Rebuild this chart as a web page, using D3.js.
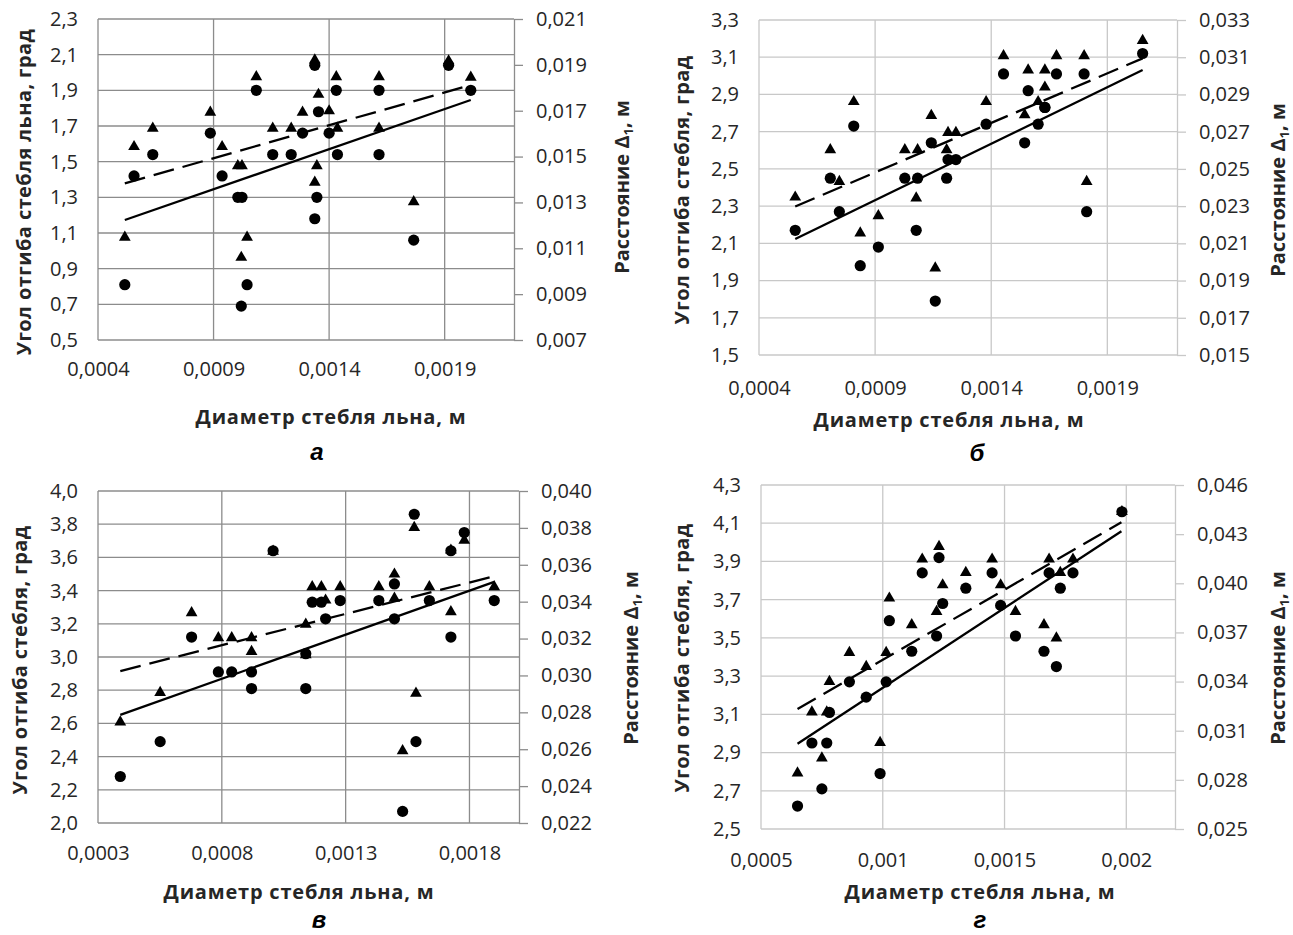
<!DOCTYPE html>
<html>
<head>
<meta charset="utf-8">
<script src="https://cdn.jsdelivr.net/npm/d3@7"></script>
<style>
  body { margin: 0; background: #fff; }
</style>
</head>
<body>
<div id="chart"></div>
<script>
// ---- panel а ----
var diamA = [0.000516, 0.000556, 0.000637, 0.000886, 0.000937, 0.001005, 0.001023, 0.001045, 0.00102, 0.001085,
  0.001156, 0.001236, 0.001285, 0.001338, 0.001354, 0.001347, 0.001338, 0.0014, 0.001431, 0.001436,
  0.001616, 0.001616, 0.001766, 0.001917, 0.002013];
var angleA = [0.81, 1.42, 1.54, 1.66, 1.42, 1.30, 1.30, 0.81, 0.69, 1.90,
  1.54, 1.54, 1.66, 2.04, 1.78, 1.30, 1.18, 1.66, 1.90, 1.54,
  1.90, 1.54, 1.06, 2.04, 1.90];
var distA = [0.01148, 0.01543, 0.01623, 0.01693, 0.01543, 0.0146, 0.0146, 0.01148, 0.0106, 0.01848,
  0.01623, 0.01623, 0.01693, 0.01921, 0.01771, 0.0146, 0.01388, 0.01699, 0.01848, 0.01623,
  0.01848, 0.01623, 0.01303, 0.01917, 0.01846];
var trendXA = [0.000516, 0.002013];
var trendAngleA = [1.173, 1.846];
var trendDistA = [0.01383, 0.01812];
var xTicksA = [0.0004, 0.0009, 0.0014, 0.0019];
var yTicksA = [0.5, 0.7, 0.9, 1.1, 1.3, 1.5, 1.7, 1.9, 2.1, 2.3];
var y2TicksA = [0.007, 0.009, 0.011, 0.013, 0.015, 0.017, 0.019, 0.021];

// ---- panel б ----
var diamB = [0.000556, 0.000707, 0.000746, 0.000808, 0.000836, 0.000914, 0.001028, 0.001083, 0.001077, 0.001142,
  0.001159, 0.001208, 0.001214, 0.001248, 0.001378, 0.001453, 0.001544, 0.001559, 0.001602, 0.001631,
  0.001631, 0.001681, 0.0018, 0.001811, 0.002052];
var angleB = [2.17, 2.45, 2.27, 2.73, 1.98, 2.08, 2.45, 2.45, 2.17, 2.64,
  1.79, 2.45, 2.55, 2.55, 2.74, 3.01, 2.64, 2.92, 2.74, 2.83,
  2.83, 3.01, 3.01, 2.27, 3.12];
var distB = [0.02348, 0.02602, 0.02432, 0.02861, 0.02155, 0.02248, 0.02602, 0.02602, 0.02343, 0.02786,
  0.01967, 0.02602, 0.02695, 0.02695, 0.02861, 0.03107, 0.0279, 0.03031, 0.02861, 0.03031,
  0.02939, 0.03107, 0.03107, 0.02432, 0.03189];
var trendXB = [0.000556, 0.002052];
var trendAngleB = [2.123, 3.031];
var trendDistB = [0.02298, 0.03094];
var xTicksB = [0.0004, 0.0009, 0.0014, 0.0019];
var yTicksB = [1.5, 1.7, 1.9, 2.1, 2.3, 2.5, 2.7, 2.9, 3.1, 3.3];
var y2TicksB = [0.015, 0.017, 0.019, 0.021, 0.023, 0.025, 0.027, 0.029, 0.031, 0.033];

// ---- panel в ----
var diamC = [0.00039, 0.000551, 0.000678, 0.000786, 0.00084, 0.00092, 0.00092, 0.001007, 0.001139, 0.001139,
  0.001165, 0.001202, 0.001219, 0.001278, 0.001434, 0.001497, 0.001497, 0.00153, 0.001577, 0.001584,
  0.001638, 0.001725, 0.001725, 0.001779, 0.0019];
var angleC = [2.28, 2.49, 3.12, 2.91, 2.91, 2.91, 2.81, 3.64, 3.02, 2.81,
  3.33, 3.33, 3.23, 3.34, 3.34, 3.44, 3.23, 2.07, 3.86, 2.49,
  3.34, 3.64, 3.12, 3.75, 3.34];
var distC = [0.02747, 0.02907, 0.0334, 0.03204, 0.03204, 0.03204, 0.03129, 0.03673, 0.03277, 0.03111,
  0.0348, 0.0348, 0.03408, 0.0348, 0.0348, 0.03549, 0.03418, 0.02591, 0.03802, 0.02903,
  0.0348, 0.03679, 0.03345, 0.03733, 0.0348];
var trendXC = [0.00039, 0.0019];
var trendAngleC = [2.651, 3.453];
var trendDistC = [0.03024, 0.03538];
var xTicksC = [0.0003, 0.0008, 0.0013, 0.0018];
var yTicksC = [2.0, 2.2, 2.4, 2.6, 2.8, 3.0, 3.2, 3.4, 3.6, 3.8, 4.0];
var y2TicksC = [0.022, 0.024, 0.026, 0.028, 0.030, 0.032, 0.034, 0.036, 0.038, 0.040];

// ---- panel г ----
var diamD = [0.00065, 0.000709, 0.00075, 0.00077, 0.000781, 0.000863, 0.000932, 0.000989, 0.001014, 0.001027,
  0.001119, 0.001162, 0.001221, 0.001231, 0.001246, 0.001341, 0.001449, 0.001484, 0.001545, 0.001662,
  0.001683, 0.001713, 0.001729, 0.001781, 0.001982];
var angleD = [2.62, 2.95, 2.71, 2.95, 3.11, 3.27, 3.19, 2.79, 3.27, 3.59,
  3.43, 3.84, 3.51, 3.92, 3.68, 3.76, 3.84, 3.67, 3.51, 3.43,
  3.84, 3.35, 3.76, 3.84, 4.16];
var distD = [0.02842, 0.03214, 0.02933, 0.03214, 0.034, 0.03577, 0.03492, 0.03028, 0.03577, 0.03909,
  0.03746, 0.04147, 0.03827, 0.04224, 0.0399, 0.04065, 0.04147, 0.0399, 0.03827, 0.03746,
  0.04147, 0.03665, 0.04065, 0.04147, 0.04437];
var trendXD = [0.00065, 0.00198];
var trendAngleD = [2.946, 4.058];
var trendDistD = [0.03232, 0.04373];
var xTicksD = [0.0005, 0.001, 0.0015, 0.002];
var yTicksD = [2.5, 2.7, 2.9, 3.1, 3.3, 3.5, 3.7, 3.9, 4.1, 4.3];
var y2TicksD = [0.025, 0.028, 0.031, 0.034, 0.037, 0.040, 0.043, 0.046];

var xTitle = "Диаметр стебля льна, м";
var fontFamily = "'Open Sans', 'Noto Sans', sans-serif";

var panels = [
  { letter: "а", diam: diamA, angle: angleA, dist: distA, tx: trendXA, ta: trendAngleA, td: trendDistA,
    xTicks: xTicksA, xMax: 0.0022, yTicks: yTicksA, y2Ticks: y2TicksA,
    box: { l: 98, r: 514, t: 19, b: 340 }, grid: "#8c8c8c", xPad: 22,
    yTitle: "Угол отгиба стебля льна, град", yTitlePos: [24, 192], y2TitlePos: [622, 187],
    xTitlePos: [331, 424], letterPos: [317, 460] },
  { letter: "б", diam: diamB, angle: angleB, dist: distB, tx: trendXB, ta: trendAngleB, td: trendDistB,
    xTicks: xTicksB, xMax: 0.0022, yTicks: yTicksB, y2Ticks: y2TicksB,
    box: { l: 759, r: 1177, t: 20, b: 355 }, grid: "#c8c8c8", xPad: 26,
    yTitle: "Угол отгиба стебля, град", yTitlePos: [682, 190], y2TitlePos: [1278, 190],
    xTitlePos: [949, 427], letterPos: [977, 461] },
  { letter: "в", diam: diamC, angle: angleC, dist: distC, tx: trendXC, ta: trendAngleC, td: trendDistC,
    xTicks: xTicksC, xMax: 0.002, yTicks: yTicksC, y2Ticks: y2TicksC,
    box: { l: 98, r: 519, t: 491, b: 823 }, grid: "#8c8c8c", xPad: 23,
    yTitle: "Угол отгиба стебля, град", yTitlePos: [20, 660], y2TitlePos: [631, 658],
    xTitlePos: [299, 899], letterPos: [319, 928] },
  { letter: "г", diam: diamD, angle: angleD, dist: distD, tx: trendXD, ta: trendAngleD, td: trendDistD,
    xTicks: xTicksD, xMax: 0.0022, yTicks: yTicksD, y2Ticks: y2TicksD,
    box: { l: 761, r: 1175, t: 485, b: 829 }, grid: "#c8c8c8", xPad: 24,
    yTitle: "Угол отгиба стебля, град", yTitlePos: [682, 658], y2TitlePos: [1278, 658],
    xTitlePos: [980, 899], letterPos: [980, 928] }
];

var svg = d3.select("#chart").append("svg")
  .attr("width", 1293)
  .attr("height", 935);

function comma(s) { return s.replace(".", ","); }
var fmtY = function(d) { return comma(d3.format(".1f")(d)); };
var fmtY2 = function(d) { return comma(d3.format(".3f")(d)); };
var fmtX = function(d) { return comma(String(+d.toFixed(4))); };

function styleAxis(sel) {
  sel.attr("font-family", fontFamily).attr("font-size", 20);
  sel.selectAll("text").attr("fill", "#262626");
}

function drawPanel(p) {
  var x = d3.scaleLinear().domain([p.xTicks[0], p.xMax]).range([p.box.l, p.box.r]);
  var y = d3.scaleLinear().domain(d3.extent(p.yTicks)).range([p.box.b, p.box.t]);
  var y2 = d3.scaleLinear().domain(d3.extent(p.y2Ticks)).range([p.box.b, p.box.t]);

  var g = svg.append("g");

  // gridlines
  g.append("g").selectAll("line").data(p.yTicks).enter().append("line")
    .attr("x1", p.box.l).attr("x2", p.box.r)
    .attr("y1", d => y(d)).attr("y2", d => y(d))
    .attr("stroke", p.grid).attr("stroke-width", 1.3);
  g.append("g").selectAll("line").data(p.xTicks).enter().append("line")
    .attr("x1", d => x(d)).attr("x2", d => x(d))
    .attr("y1", p.box.t).attr("y2", p.box.b)
    .attr("stroke", p.grid).attr("stroke-width", 1.3);

  // left axis labels
  g.append("g")
    .attr("transform", `translate(${p.box.l},0)`)
    .call(d3.axisLeft(y).tickValues(p.yTicks).tickSize(0).tickPadding(20).tickFormat(fmtY))
    .call(a => a.select(".domain").remove())
    .call(styleAxis);

  // bottom axis labels
  g.append("g")
    .attr("transform", `translate(0,${p.box.b})`)
    .call(d3.axisBottom(x).tickValues(p.xTicks).tickSize(0).tickPadding(p.xPad).tickFormat(fmtX))
    .call(a => a.select(".domain").remove())
    .call(styleAxis);

  // right axis
  var right = g.append("g")
    .attr("transform", `translate(${p.box.r},0)`)
    .call(d3.axisRight(y2).tickValues(p.y2Ticks).tickSize(9).tickSizeOuter(0).tickPadding(13).tickFormat(fmtY2))
    .call(styleAxis);
  right.select(".domain").attr("stroke", p.grid).attr("stroke-width", 1.3);
  right.selectAll(".tick line").attr("stroke", p.grid).attr("stroke-width", 1.3);

  // trend lines
  var tData = p.tx.map((v, i) => ({ x: v, a: p.ta[i], d: p.td[i] }));
  g.append("path").datum(tData)
    .attr("fill", "none").attr("stroke", "#000").attr("stroke-width", 2.3)
    .attr("d", d3.line().x(d => x(d.x)).y(d => y(d.a)));
  g.append("path").datum(tData)
    .attr("fill", "none").attr("stroke", "#000").attr("stroke-width", 2.3)
    .attr("stroke-dasharray", "21,9")
    .attr("d", d3.line().x(d => x(d.x)).y(d => y2(d.d)));

  // points
  var pts = p.diam.map((v, i) => ({ x: v, a: p.angle[i], d: p.dist[i] }));
  g.append("g").selectAll("path").data(pts).enter().append("path")
    .attr("d", d3.symbol(d3.symbolTriangle, 60))
    .attr("transform", d => `translate(${x(d.x)},${y2(d.d)})`)
    .attr("fill", "#000");
  g.append("g").selectAll("circle").data(pts).enter().append("circle")
    .attr("cx", d => x(d.x)).attr("cy", d => y(d.a))
    .attr("r", 5.6).attr("fill", "#000");

  // titles
  g.append("text")
    .attr("x", p.xTitlePos[0]).attr("y", p.xTitlePos[1])
    .attr("text-anchor", "middle")
    .attr("font-family", fontFamily).attr("font-size", 20).attr("font-weight", "bold")
    .attr("letter-spacing", 0.8)
    .attr("fill", "#262626")
    .text(xTitle);

  g.append("text")
    .attr("transform", `translate(${p.yTitlePos[0]},${p.yTitlePos[1]}) rotate(-90)`)
    .attr("text-anchor", "middle").attr("dy", "0.35em")
    .attr("font-family", fontFamily).attr("font-size", 20).attr("font-weight", "bold")
    .attr("letter-spacing", 0.4)
    .attr("fill", "#262626")
    .text(p.yTitle);

  var t2 = g.append("text")
    .attr("transform", `translate(${p.y2TitlePos[0]},${p.y2TitlePos[1]}) rotate(-90)`)
    .attr("text-anchor", "middle").attr("dy", "0.35em")
    .attr("font-family", fontFamily).attr("font-size", 20).attr("font-weight", "bold")
    .attr("fill", "#262626");
  t2.append("tspan").text("Расстояние Δ");
  t2.append("tspan").attr("font-size", 13).attr("dy", 4).text("1");
  t2.append("tspan").attr("dy", -4).text(", м");

  g.append("text")
    .attr("x", p.letterPos[0]).attr("y", p.letterPos[1])
    .attr("text-anchor", "middle")
    .attr("font-family", "'Liberation Sans', Arial, sans-serif")
    .attr("font-size", 24).attr("font-weight", "bold").attr("font-style", "italic")
    .attr("fill", "#000")
    .text(p.letter);
}

panels.forEach(drawPanel);
</script>
</body>
</html>
